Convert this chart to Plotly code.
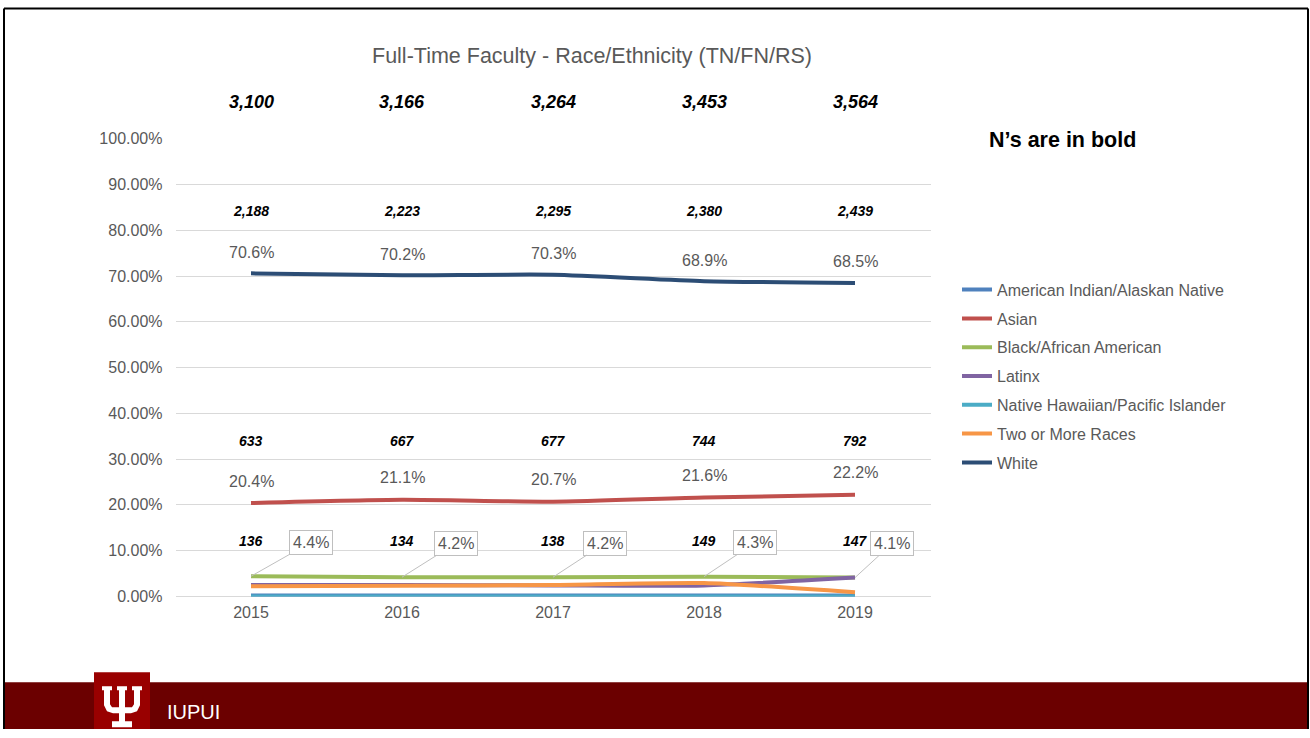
import plotly.graph_objects as go

W, H = 1310, 738

years = ["2015", "2016", "2017", "2018", "2019"]
series_names = [
    "American Indian/Alaskan Native",
    "Asian",
    "Black/African American",
    "Latinx",
    "Native Hawaiian/Pacific Islander",
    "Two or More Races",
    "White",
]
am_indian = [0.2, 0.2, 0.2, 0.2, 0.2]
asian = [20.4, 21.1, 20.7, 21.6, 22.2]
black = [4.4, 4.2, 4.2, 4.3, 4.1]
latinx = [2.5, 2.5, 2.4, 2.4, 4.1]
hawaiian = [0.0, 0.0, 0.0, 0.0, 0.0]
two_more = [2.2, 2.3, 2.5, 2.9, 0.9]
white = [70.6, 70.2, 70.3, 68.9, 68.5]

n_total = [3100, 3166, 3264, 3453, 3564]
n_white = [2188, 2223, 2295, 2380, 2439]
n_asian = [633, 667, 677, 744, 792]
n_black = [136, 134, 138, 149, 147]

colors = ["#4F81BD", "#C0504D", "#9BBB59", "#8064A2", "#4BACC6", "#F79646", "#2C4D75"]
callout_dx = [60, 54, 52, 51, 37]

# vertical compensation for the capture pipeline
VOFF, VSC = 7.0, 0.978

def fx(px):
    return px / W

def fy(py):
    v = 1 - ((py - VOFF) / VSC) / H
    return min(1.0, max(0.0, v))

GRAY = "#595959"
FONT = "Liberation Sans, Arial, sans-serif"

fig = go.Figure()
xs = list(range(len(years)))
all_series = [am_indian, asian, black, latinx, hawaiian, two_more, white]
for i, (name, vals) in enumerate(zip(series_names, all_series)):
    fig.add_trace(go.Scatter(
        x=xs, y=[v / 100 for v in vals], name=name, mode="lines",
        line=dict(color=colors[i], width=4, shape="spline", smoothing=0.6),
        legendgroup=f"g{i}", hoverinfo="skip",
    ))

def txt(x, y, text, size, color, xref="paper", yref="paper", xanchor="center", **kw):
    d = dict(x=x, y=y, xref=xref, yref=yref, text=text, showarrow=False,
             xanchor=xanchor, yanchor="middle", font=dict(size=size, color=color, family=FONT))
    d.update(kw)
    return d

ann = []
ann.append(txt(fx(591.5), fy(55), "Full-Time Faculty - Race/Ethnicity (TN/FN/RS)", 21.5, GRAY))
ann.append(txt(fx(1062), fy(139), "<b>N’s are in bold</b>", 21.5, "#000000"))
for i in xs:
    ann.append(txt(i, fy(101), f"<b><i>{n_total[i]:,}</i></b>", 18, "#000", xref="x"))
    ann.append(txt(i, fy(210), f"<b><i>{n_white[i]:,}</i></b>", 14, "#000", xref="x"))
    ann.append(txt(i, fy(440), f"<b><i>{n_asian[i]:,}</i></b>", 14, "#000", xref="x"))
    ann.append(txt(i, fy(541), f"<b><i>{n_black[i]:,}</i></b>", 14, "#000", xref="x"))
    ann.append(txt(i, white[i] / 100, f"{white[i]:.1f}%", 16, GRAY, xref="x", yref="y", yshift=21))
    ann.append(txt(i, asian[i] / 100, f"{asian[i]:.1f}%", 16, GRAY, xref="x", yref="y", yshift=22))
    ann.append(dict(x=i, y=black[i] / 100, xref="x", yref="y", text=f"{black[i]:.1f}%",
                    showarrow=True, arrowhead=0, arrowwidth=1, arrowcolor="#BFBFBF",
                    ax=callout_dx[i], ay=-34, bordercolor="#BFBFBF", borderwidth=1, borderpad=3,
                    bgcolor="#FFFFFF", font=dict(size=16, color=GRAY, family=FONT)))
ann.append(txt(fx(165), fy(712), "IUPUI", 20, "#FFFFFF", xanchor="left"))

def path_px(pts):
    return "M " + " L ".join(f"{fx(x):.5f},{fy(y):.5f}" for x, y in pts) + " Z"

shapes = []
shapes.append(dict(type="rect", xref="paper", yref="paper", x0=fx(5), x1=fx(1307), y0=0, y1=fy(682),
                   fillcolor="#6B0000", line=dict(width=0), layer="below"))
shapes.append(dict(type="rect", xref="paper", yref="paper", x0=fx(94), x1=fx(150), y0=0, y1=fy(672),
                   fillcolor="#990000", line=dict(width=0)))
trident = [
    (102, 686), (112, 686), (112, 690), (110, 690), (110, 704), (112, 707), (119, 707), (119, 690), (117, 690),
    (117, 686), (127, 686), (127, 690), (125, 690), (125, 707), (132, 707), (134, 704), (134, 690), (132, 690),
    (132, 686), (142, 686), (142, 690), (140, 690), (140, 705), (137, 711), (131, 713), (125, 713),
    (125, 721), (132, 721), (132, 727), (112, 727), (112, 721), (119, 721), (119, 713), (113, 713),
    (107, 711), (104, 705), (104, 690), (102, 690),
]
shapes.append(dict(type="path", xref="paper", yref="paper", path=path_px(trident),
                   fillcolor="#FFFFFF", line=dict(width=0)))
top_y = fy(7.5)
shapes.append(dict(type="line", xref="paper", yref="paper", x0=fx(4), x1=fx(1308), y0=top_y, y1=top_y,
                   line=dict(color="#000", width=2)))
shapes.append(dict(type="line", xref="paper", yref="paper", x0=fx(4), x1=fx(4), y0=top_y, y1=0,
                   line=dict(color="#000", width=2)))
shapes.append(dict(type="line", xref="paper", yref="paper", x0=fx(1308), x1=fx(1308), y0=top_y, y1=0,
                   line=dict(color="#000", width=2)))

fig.update_layout(
    width=W, height=H,
    margin=dict(l=0, r=0, t=0, b=0),
    paper_bgcolor="#FFFFFF", plot_bgcolor="#FFFFFF",
    font=dict(family=FONT, color=GRAY),
    showlegend=True,
    legend=dict(x=fx(957), y=fy(272), xanchor="left", yanchor="top", font=dict(size=16, color=GRAY, family=FONT),
                tracegroupgap=5, bgcolor="rgba(0,0,0,0)", itemwidth=30),
    xaxis=dict(domain=[fx(175.5), fx(930.5)], range=[-0.5, 4.5], tickvals=xs, ticktext=years,
               showgrid=False, zeroline=False, showline=False, ticks="", ticklabelstandoff=5,
               tickfont=dict(size=16, color=GRAY, family=FONT), fixedrange=True),
    yaxis=dict(domain=[fy(596), fy(138)], range=[0, 1], dtick=0.1, tickformat=".2%",
               showgrid=True, gridcolor="#D9D9D9", gridwidth=1, zeroline=True, zerolinecolor="#D9D9D9",
               zerolinewidth=1, showline=False, ticks="", ticklabelstandoff=12,
               tickfont=dict(size=16, color=GRAY, family=FONT), fixedrange=True),
    annotations=ann,
    shapes=shapes,
)

page_fix = (
    "var s=document.createElement('style');"
    "s.textContent='html,body{margin:0!important;padding:0!important;overflow:hidden!important;}';"
    "document.head.appendChild(s);"
)
fig.write_html("out.html", config={"displayModeBar": False}, post_script=page_fix)
